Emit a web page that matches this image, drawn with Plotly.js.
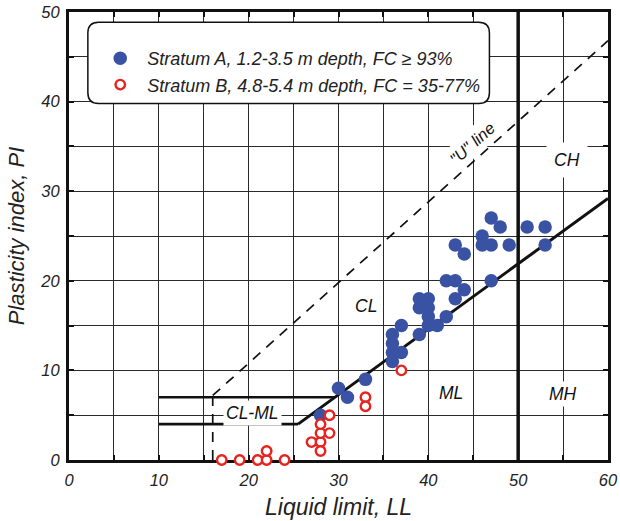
<!DOCTYPE html>
<html>
<head>
<meta charset="utf-8">
<script src="https://cdn.plot.ly/plotly-3.0.1.min.js"></script>
<style>html,body{margin:0;padding:0;background:#fff;}#chart{width:620px;height:521px;}</style>
</head>
<body>
<div id="chart"></div>
<script>
// Stratum A (filled blue)
const llA = [47,48,51,53,46,46,47,49,53,43,44,42,43,47,44,43,39,40,39,40,42,40,41,40,39,37,36,36,36,37,36,33,30,31,28];
const piA = [27,26,26,26,25,24,24,24,24,24,23,20,20,20,19,18,18,18,17,17,16,16,15,15,14,15,14,13,12,12,11,9,8,7,5];
// Stratum B (open red)
const llB = [17,19,21,22,22,24,27,28,28,28,29,28,29,33,33,37];
const piB = [0,0,0,0,1,0,2,2,1,3,3,4,5,7,6,10];

const nameA = 'Stratum A, 1.2-3.5 m depth, FC \u2265 93%';
const nameB = 'Stratum B, 4.8-5.4 m depth, FC = 35-77%';

// Classification chart lines
const aLineLL = [25.5, 60];
const aLinePI = [4, 29.2];
const uLineLL = [16, 60];
const uLinePI = [7.2, 46.8];
const uVertLL = [16, 16];
const uVertPI = [0, 7];
const clmlLowLL = [10, 25.5];
const clmlLowPI = [4, 4];
const clmlHighLL = [10, 29.6];
const clmlHighPI = [7, 7];
const llDivLL = [50, 50];
const llDivPI = [0, 50];

const xTickVals = [0,5,10,15,20,25,30,35,40,45,50,55,60];
const xTickText = ['0','','10','','20','','30','','40','','50','','60'];
const yTickVals = [0,5,10,15,20,25,30,35,40,45,50];
const yTickText = ['0','','10','','20','','30','','40','','50'];

const zoneLabels = ['CL','ML','MH','CH','CL-ML'];
const zoneLL = [33.1, 42.5, 55, 55.4, 20.4];
const zonePI = [17.2, 7.5, 7.4, 33.5, 5.3];

const FONT = 'Liberation Sans, Arial, sans-serif';
const blue = '#3A52A3';
const red = '#E8231F';

function line(x, y, w, dash) {
  return {x: x, y: y, mode: 'lines', type: 'scatter', showlegend: false, hoverinfo: 'skip',
          line: {color: '#111', width: w, dash: dash || 'solid'}, cliponaxis: false};
}

const traces = [
  line(uLineLL, uLinePI, 1.7, '10px,8px'),
  line(uVertLL, uVertPI, 1.7, '10px,8px'),
  line(clmlLowLL, clmlLowPI, 2.6),
  line(clmlHighLL, clmlHighPI, 2.6),
  line(aLineLL, aLinePI, 3),
  line(llDivLL, llDivPI, 3.5),
  {x: llA, y: piA, mode: 'markers', type: 'scatter', name: nameA, cliponaxis: false,
   marker: {color: blue, size: 13.5, line: {width: 0}}},
  {x: llB, y: piB, mode: 'markers', type: 'scatter', name: nameB, cliponaxis: false,
   marker: {color: 'white', size: 9.5, line: {color: red, width: 2.4}}}
];

const annotations = zoneLabels.map((t, i) => ({
  x: zoneLL[i], y: zonePI[i], xref: 'x', yref: 'y', text: t, showarrow: false,
  font: {family: FONT, size: 17.5, color: '#111', style: 'italic'},
  bgcolor: (t === 'CL' || t === 'ML') ? 'rgba(0,0,0,0)' : 'white',
  borderpad: (t === 'CH') ? 7 : 2
}));
annotations.push({
  x: 44.9, y: 35.4, xref: 'x', yref: 'y', text: '"U" line', showarrow: false, textangle: -42,
  font: {family: FONT, size: 16.5, color: '#111', style: 'italic'}, bgcolor: 'white', borderpad: 3
});

// rounded legend frame in data units
const x0 = 2.1, x1 = 46.8, y0 = 39.8, y1 = 48.85, r = 1.2;
const legendPath = `M ${x0+r},${y1} L ${x1-r},${y1} Q ${x1},${y1} ${x1},${y1-r} L ${x1},${y0+r} Q ${x1},${y0} ${x1-r},${y0} L ${x0+r},${y0} Q ${x0},${y0} ${x0},${y0+r} L ${x0},${y1-r} Q ${x0},${y1} ${x0+r},${y1} Z`;

const axisCommon = {
  showline: true, linewidth: 3, linecolor: '#111', mirror: 'ticks',
  ticks: 'inside', ticklen: 5, tickwidth: 2, tickcolor: '#111',
  showgrid: true, gridcolor: '#2a2a2a', gridwidth: 1, zeroline: false,
  tickfont: {family: FONT, size: 16.5, color: '#222', style: 'italic'},
  tickmode: 'array', layer: 'below traces', fixedrange: true
};

const layout = {
  width: 620, height: 521,
  margin: {l: 69, r: 12, t: 12, b: 61},
  paper_bgcolor: 'white', plot_bgcolor: 'white',
  showlegend: true,
  legend: {x: 0.045, y: 0.9375, xanchor: 'left', yanchor: 'top', bgcolor: 'rgba(0,0,0,0)',
           borderwidth: 0, itemwidth: 44,
           font: {family: FONT, size: 18, color: '#222', style: 'italic'}},
  xaxis: Object.assign({}, axisCommon, {range: [0, 60], tickvals: xTickVals, ticktext: xTickText,
    ticklabelstandoff: 3,
    title: {text: 'Liquid limit, <i>LL</i>', standoff: 12,
            font: {family: FONT, size: 23, color: '#222', style: 'italic'}}}),
  yaxis: Object.assign({}, axisCommon, {range: [0, 50], tickvals: yTickVals, ticktext: yTickText,
    ticklabelstandoff: 3,
    title: {text: 'Plasticity index, <i>PI</i>', standoff: 10,
            font: {family: FONT, size: 22, color: '#222', style: 'italic'}}}),
  shapes: [{type: 'path', path: legendPath, xref: 'x', yref: 'y', layer: 'above',
            fillcolor: 'white', line: {color: '#111', width: 1.5}}],
  annotations: annotations
};

Plotly.newPlot('chart', traces, layout, {displayModeBar: false, staticPlot: true});
</script>
</body>
</html>
